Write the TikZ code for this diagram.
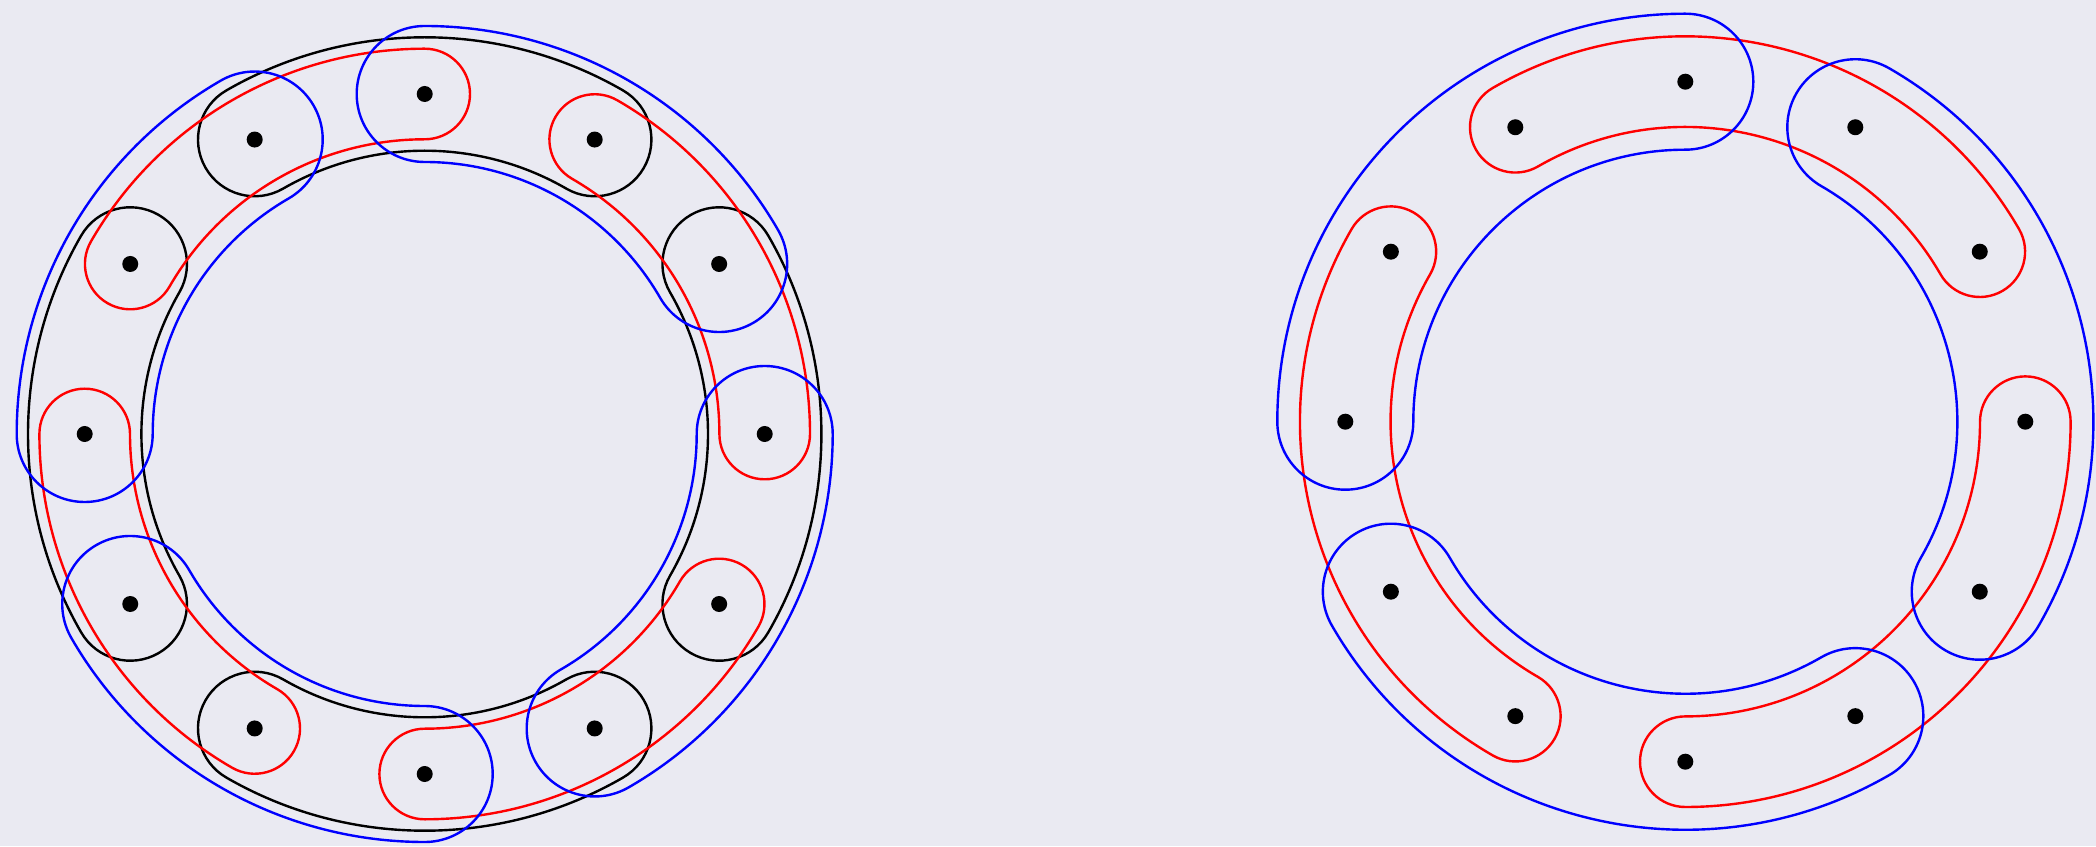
\documentclass[tikz,border=0pt]{standalone}
\usetikzlibrary{calc}
\definecolor{bgc}{RGB}{234,234,242}
\tikzset{
  ringline/.style={line width=1.2pt, line join=round},
  blk/.style={ringline, draw=black},
  rd/.style={ringline, draw=red},
  bl/.style={ringline, draw=blue},
  pt/.style={circle, fill=black, inner sep=0pt, minimum size=8pt}
}
\newcommand\ringarc[5]{%
  \pgfmathsetmacro\rOutR{340+#5}%
  \pgfmathsetmacro\rInR{340-#5}%
  \draw[#1] (#2) ++(#3:\rOutR)
    arc[start angle=#3, end angle=#4, radius=\rOutR]
    arc[start angle=#4, end angle=#4+180, radius=#5]
    arc[start angle=#4, end angle=#3, radius=\rInR]
    arc[start angle=#3+180, end angle=#3+360, radius=#5] -- cycle;}
\begin{document}
\begin{tikzpicture}[x=0.5pt, y=0.5pt]
\fill[bgc] (0,0) rectangle (2096,846);
\path[use as bounding box] (0,0) rectangle (2096,846);
\coordinate (CL) at (424.7,412);
\coordinate (CR) at (1685.3,424.3);
% left diagram
\foreach \a in {60,150,240,330} {\ringarc{blk}{CL}{\a}{\a+60}{56.7}}
\foreach \a in {0,90,180,270} {\ringarc{rd}{CL}{\a}{\a+60}{45.3}}
\foreach \a in {30,120,210,300} {\ringarc{bl}{CL}{\a}{\a+60}{68}}
% right diagram
\foreach \a in {30,150,270} {\ringarc{rd}{CR}{\a}{\a+90}{45.3}}
\foreach \a in {90,210,330} {\ringarc{bl}{CR}{\a}{\a+90}{68}}
% points
\foreach \i in {0,...,11} {
  \node[pt] (L\i) at ($(CL)+(\i*30:340)$) {};
  \node[pt] (R\i) at ($(CR)+(\i*30:340)$) {};
}
\end{tikzpicture}
\end{document}
